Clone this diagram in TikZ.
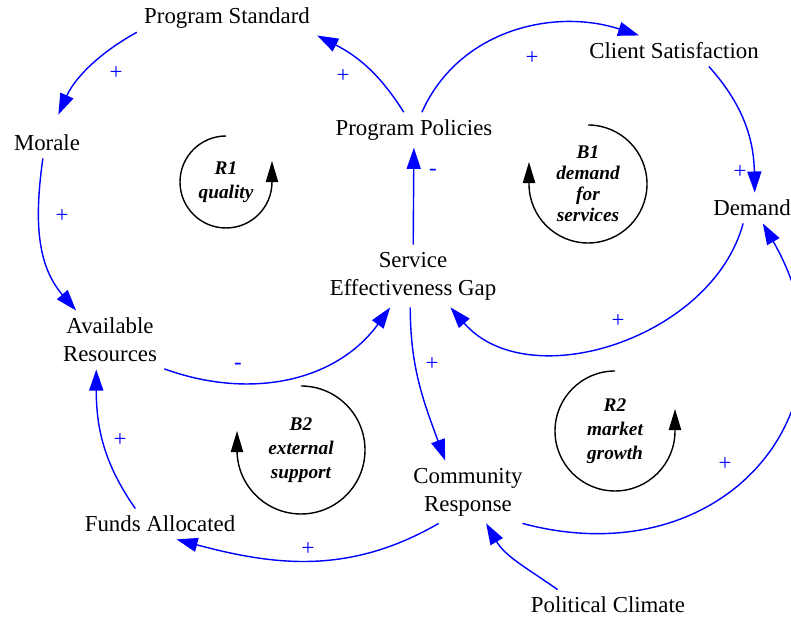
\documentclass[tikz,border=0pt]{standalone}
\usepackage{fontspec}
\setmainfont{Liberation Serif}
\usetikzlibrary{arrows.meta}

\begin{document}
\begin{tikzpicture}[x=0.02cm,y=0.02cm,
	var/.style={inner sep=4pt,align=center,font=\fontsize{13}{16}\selectfont},
	link/.style={blue,line width=0.8pt,-{Triangle[length=12pt,width=8pt]}},
	loopname/.style={align=center,font=\fontsize{11}{13.5}\selectfont\bfseries\itshape},
	looparc/.style={line width=0.8pt,-{Triangle[length=12pt,width=7pt]}},
	sign/.style={blue,inner sep=0pt,font=\fontsize{13}{13}\selectfont}]
				\useasboundingbox (0,0) rectangle (791,617);
				% variables
				\node[var] (ps) at (227,599) {Program Standard};
				\node[var] (cs) at (674,566) {Client Satisfaction};
				\node[var] (mo) at (47,474) {Morale};
				\node[var] (pp) at (414,487) {Program Policies};
				\node[var] (de) at (752,409) {Demand};
				\node[var] (seg) at (413,341) {Service\\Effectiveness Gap};
				\node[var] (ar) at (110,277) {Available\\Resources};
				\node[var] (cr) at (468,125) {Community\\Response};
				\node[var] (fa) at (160,93) {Funds Allocated};
				\node[var] (pc) at (608,12) {Political Climate};
				% links
				\draw[link] (pp.120) to[out=122,in=-27] (ps.-11);
				\draw[link,shorten >=8pt] (ps.189) to[out=209,in=66] (mo.70);
				\draw[link] (mo.255) to[out=262,in=131] (ar.139);
				\draw[link] (ar.-28) to[out=-20,in=234] (seg.234);
				\draw[link] (seg) -- (pp);
				\draw[link] (pp.66) to[out=66,in=162] (cs.156);
				\draw[link] (cs.-24) to[out=-48,in=91] (de.80);
				\draw[link] (de.240) to[out=255,in=-49] (seg.-40);
				\draw[link] (seg.265) to[out=270,in=110] (cr.126);
				\draw[link] (cr.-30) to[out=-15,in=-60,looseness=1.4] (de.-55);
				\draw[link] (cr.227) to[out=210,in=-15] (fa.-43);
				\draw[link] (fa.148) to[out=125,in=-90] (ar.245);
				\draw[link] (pc.163) to[out=145,in=-60] (cr.-60);
				\foreach \x/\y/\s [count=\i] in {343/541/+,116/544/+,62/401/+,238/251/-,433/445/-,532/559/+,740/445/+,618/296/+,432/253/+,725/153/+,308/68/+,120/177/+}
				\node[sign] (sg\i) at (\x,\y) {\s};
				% loops
				\node[loopname] (r1) at (226,435) {R1\\quality};
				\draw[looparc] ([shift={(90:46)}]r1.center) arc[start angle=90,end angle=360,radius=46] -- ++(0,21);
				\node[loopname,font=\fontsize{11}{12}\selectfont\bfseries\itshape] (b1) at (588,433) {B1\\demand\\for\\services};
				\draw[looparc] ([shift={(90:59)}]b1.center) arc[start angle=90,end angle=-180,radius=59] -- ++(0,22);
				\node[loopname] (b2) at (301,167) {B2\\external\\support};
				\draw[looparc] ([shift={(90:64)}]b2.center) arc[start angle=90,end angle=-180,radius=64] -- ++(0,19);
				\node[loopname] (r2) at (615,186) {R2\\market\\growth};
				\draw[looparc] ([shift={(90:60)}]r2.center) arc[start angle=90,end angle=360,radius=60] -- ++(0,22);
				\end{tikzpicture}
\end{document}
